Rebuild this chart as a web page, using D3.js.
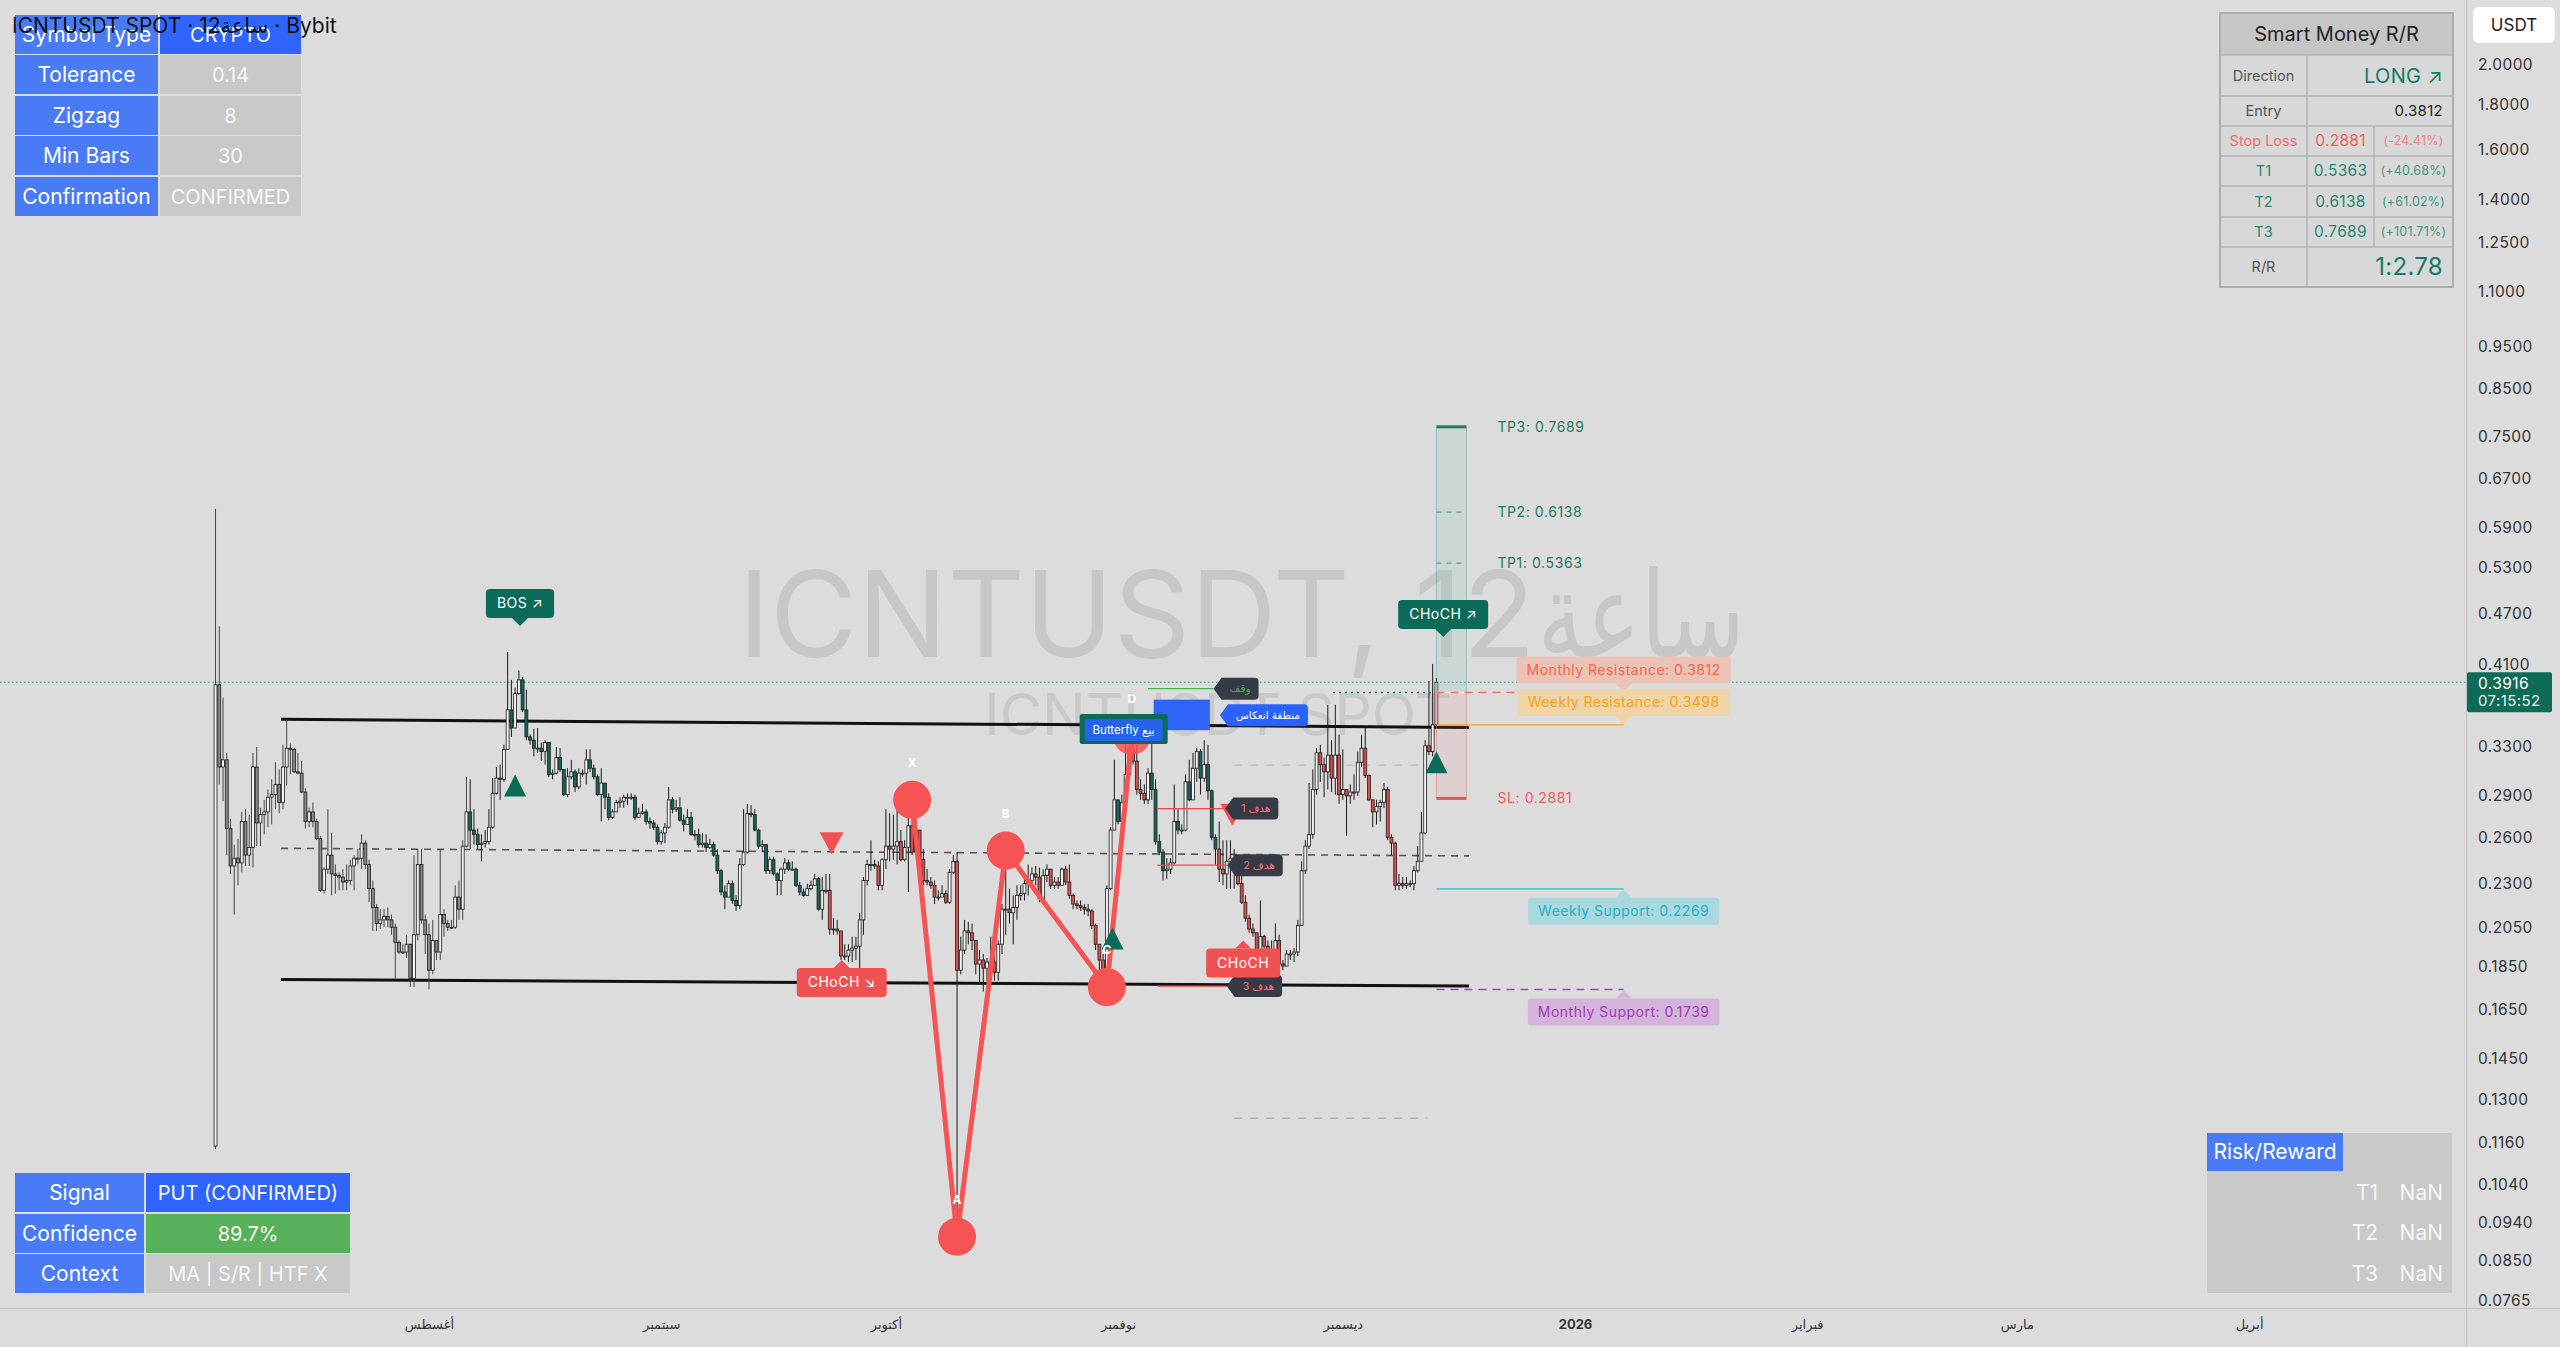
<!DOCTYPE html>
<html><head><meta charset="utf-8">
<script src="https://cdn.jsdelivr.net/npm/d3@7/dist/d3.min.js"></script>
<style>
html,body{margin:0;padding:0;background:#dcdcdc;overflow:hidden;}
svg{display:block;}
</style></head><body>
<svg id="chart" width="2560" height="1347"></svg>
<script>
// ---------------- DATA ----------------
const startTime = "2025-07-03T12:00:00Z";   // first 12h bar
const barHours = 12;
const timeDomain = ["2025-06-04T17:24:00Z", "2026-04-29T23:00:00Z"];
const priceDomain = [2.3745, 0.07497];
const firstOpen = 0.115;
const closes = [.389,.313,.319,.266,.241,.246,.243,.271,.248,.253,
 .313,.270,.276,.278,.289,.291,.299,.285,.313,.329,
 .328,.309,.308,.293,.271,.278,.271,.259,.226,.239,
 .248,.236,.235,.234,.231,.232,.241,.246,.246,.256,
 .242,.227,.216,.207,.209,.211,.209,.205,.197,.192,
 .192,.196,.179,.201,.242,.209,.201,.183,.198,.192,
 .212,.207,.205,.205,.222,.215,.254,.278,.265,.262,
 .255,.256,.257,.267,.292,.304,.303,.328,.364,.347,
 .380,.394,.364,.339,.336,.329,.329,.326,.334,.307,
 .308,.321,.311,.291,.305,.309,.297,.308,.308,.319,
 .312,.305,.291,.300,.289,.274,.278,.285,.286,.289,
 .289,.289,.274,.277,.278,.271,.270,.267,.257,.263,
 .267,.287,.280,.281,.272,.269,.274,.262,.262,.255,
 .256,.253,.255,.248,.238,.225,.222,.230,.220,.217,
 .242,.250,.277,.276,.265,.254,.255,.238,.245,.236,
 .232,.239,.243,.239,.239,.229,.225,.223,.227,.229,
 .233,.215,.226,.226,.204,.204,.203,.190,.190,.193,
 .194,.195,.209,.232,.242,.242,.241,.229,.245,.254,
 .252,.254,.257,.245,.253,.268,.250,.265,.245,.232,
 .231,.229,.222,.222,.224,.219,.237,.244,.183,.193,
 .203,.202,.198,.186,.188,.184,.187,.187,.182,.196,
 .215,.215,.213,.216,.223,.224,.230,.232,.236,.234,
 .221,.235,.239,.229,.231,.229,.239,.231,.223,.218,
 .217,.216,.215,.214,.206,.196,.188,.181,.227,.265,
 .287,.271,.285,.307,.328,.318,.295,.292,.287,.308,
 .295,.257,.250,.238,.239,.243,.271,.265,.265,.301,
 .287,.312,.326,.304,.315,.294,.260,.252,.239,.236,
 .244,.246,.246,.230,.219,.210,.204,.202,.193,.200,
 .195,.182,.182,.198,.186,.185,.191,.191,.192,.206,
 .238,.254,.262,.295,.325,.315,.309,.323,.304,.323,
 .291,.295,.290,.293,.293,.317,.329,.306,.287,.278,
 .282,.285,.295,.260,.256,.229,.230,.229,.230,.230,
 .238,.244,.263,.331,.326,.350,.3916];
const highs = [.619,.454,.376,.325,.273,.255,.259,.278,.280,.276,
 .325,.330,.281,.287,.295,.303,.317,.311,.332,.355,
 .333,.329,.325,.318,.296,.281,.285,.273,.261,.240,
 .280,.263,.242,.237,.239,.242,.245,.248,.252,.262,
 .258,.245,.232,.218,.215,.215,.216,.212,.207,.198,
 .196,.201,.196,.248,.252,.252,.212,.207,.209,.198,
 .252,.215,.209,.209,.229,.232,.258,.305,.303,.280,
 .266,.262,.265,.280,.304,.313,.315,.332,.424,.394,
 .386,.404,.397,.384,.341,.346,.347,.334,.336,.334,
 .311,.330,.329,.311,.312,.319,.311,.312,.311,.328,
 .328,.315,.307,.312,.300,.292,.280,.287,.289,.291,
 .292,.292,.291,.281,.284,.280,.274,.272,.269,.265,
 .270,.297,.289,.287,.289,.276,.280,.278,.265,.266,
 .263,.262,.259,.257,.252,.239,.229,.232,.232,.223,
 .246,.280,.284,.283,.280,.266,.258,.253,.247,.247,
 .237,.240,.246,.245,.244,.240,.231,.227,.230,.232,
 .236,.234,.234,.236,.236,.210,.209,.203,.196,.196,
 .200,.200,.213,.234,.245,.258,.245,.244,.246,.280,
 .277,.276,.283,.265,.258,.287,.287,.276,.255,.252,
 .239,.234,.232,.226,.229,.226,.239,.248,.250,.200,
 .209,.208,.207,.193,.193,.191,.189,.200,.191,.198,
 .218,.251,.227,.223,.229,.229,.236,.242,.240,.241,
 .240,.239,.242,.239,.234,.234,.240,.241,.242,.224,
 .220,.220,.218,.218,.215,.207,.196,.191,.229,.267,
 .319,.287,.291,.336,.341,.341,.336,.303,.299,.312,
 .341,.303,.262,.252,.246,.246,.299,.280,.269,.307,
 .319,.325,.329,.328,.336,.332,.295,.262,.271,.258,
 .258,.258,.252,.245,.236,.223,.212,.207,.201,.220,
 .201,.198,.198,.207,.201,.188,.193,.193,.194,.209,
 .244,.258,.300,.311,.329,.332,.321,.369,.336,.369,
 .341,.328,.295,.299,.307,.326,.341,.347,.307,.287,
 .287,.287,.300,.297,.262,.257,.236,.234,.234,.232,
 .241,.254,.278,.336,.393,.411,.396];
const lows = [.114,.299,.286,.248,.236,.212,.229,.237,.241,.241,
 .240,.254,.254,.262,.267,.269,.280,.277,.280,.298,
 .307,.308,.307,.292,.266,.267,.267,.258,.225,.224,
 .236,.223,.224,.226,.226,.226,.229,.226,.242,.239,
 .239,.219,.203,.203,.204,.205,.205,.201,.179,.191,
 .191,.189,.175,.175,.198,.207,.191,.174,.181,.188,
 .188,.200,.203,.204,.204,.209,.209,.253,.252,.255,
 .252,.244,.253,.255,.266,.291,.287,.301,.328,.339,
 .347,.379,.362,.336,.332,.322,.325,.318,.315,.305,
 .303,.307,.309,.290,.289,.303,.293,.295,.305,.299,
 .309,.303,.290,.271,.280,.272,.273,.278,.281,.281,
 .283,.287,.272,.274,.276,.269,.266,.265,.255,.255,
 .256,.266,.277,.278,.271,.264,.269,.261,.258,.253,
 .253,.250,.252,.247,.236,.223,.215,.223,.218,.214,
 .215,.241,.249,.274,.264,.252,.250,.236,.236,.235,
 .223,.223,.236,.238,.238,.228,.223,.222,.223,.226,
 .229,.214,.209,.224,.201,.201,.201,.188,.188,.187,
 .187,.188,.176,.201,.229,.238,.239,.226,.226,.239,
 .244,.245,.242,.244,.244,.225,.248,.248,.240,.229,
 .229,.227,.218,.220,.222,.218,.218,.236,.0905,.181,
 .191,.196,.193,.181,.176,.173,.178,.178,.178,.178,
 .191,.201,.207,.196,.209,.220,.220,.223,.227,.229,
 .219,.218,.231,.227,.227,.227,.229,.229,.221,.215,
 .215,.214,.212,.211,.204,.193,.181,.176,.175,.226,
 .265,.269,.269,.278,.307,.315,.291,.287,.284,.284,
 .287,.255,.248,.232,.233,.236,.242,.262,.262,.264,
 .286,.287,.301,.291,.301,.287,.258,.242,.231,.229,
 .227,.227,.227,.229,.218,.208,.202,.200,.191,.190,
 .193,.177,.176,.182,.178,.183,.187,.188,.187,.190,
 .206,.236,.252,.259,.291,.301,.289,.295,.293,.291,
 .284,.287,.261,.284,.287,.290,.313,.304,.286,.267,
 .269,.271,.281,.258,.248,.226,.226,.227,.227,.228,
 .226,.237,.244,.262,.323,.322,.347];
const trendBreaks = [[0,'gray'],[68,'teal'],[164,'red'],[238,'teal'],[243,'red'],[249,'teal'],[268,'red']];

const priceTicks = [2.0,1.8,1.6,1.4,1.25,1.1,0.95,0.85,0.75,0.67,0.59,0.53,0.47,0.41,0.33,0.29,0.26,0.23,0.205,0.185,0.165,0.145,0.13,0.116,0.104,0.094,0.085,0.0765];
const monthDates = ["2025-08-01","2025-09-01","2025-10-01","2025-11-01","2025-12-01","2026-01-01","2026-02-01","2026-03-01","2026-04-01"];
const monthLabels = ["أغسطس","سبتمبر","أكتوبر","نوفمبر","ديسمبر","2026","فبراير","مارس","أبريل"];
const lastPrice = 0.3916, lastCountdown = "07:15:52";

// channel (bar from, bar to, price from, price to)
const channelFrom = [17.5, 17.5, 17.5], channelTo = [334.7, 334.7, 334.7];
const channelP0 = [0.355, 0.1785, 0.2525], channelP1 = [0.3475, 0.1755, 0.2475];
const channelDash = [false, false, true];

// harmonic pattern XABCD
const patLabels = ['X','A','B','C','D'];
const patBars = [186, 198, 211, 238, 244.7];
const patPrices = [0.287, 0.0905, 0.251, 0.175, 0.340];

// signal triangles
const sigBars = [80, 164.5, 239.5, 271.5, 326];
const sigPrices = [0.298, 0.256, 0.199, 0.276, 0.317];
const sigDirs = ['up','down','up','down','up'];

// structure labels (pointer tip)
const stTexts = ['BOS ↗','CHoCH ↘','CHoCH','CHoCH ↗'];
const stBars = [81.3, 167.2, 274.4, 327.8];
const stPrices = [0.4543, 0.188, 0.198, 0.4413];
const stSide = ['above','below','below','above'];
const stBull = [true, false, false, true];

// trade setup
const entryPrice = 0.3812, stopPrice = 0.2881;
const tpNames = ['TP1','TP2','TP3'], tpPrices = [0.5363, 0.6138, 0.7689];
const tradeBars = [326, 334];

// HTF levels
const lvlNames = ['Monthly Resistance','Weekly Resistance','Weekly Support','Monthly Support'];
const lvlPrices = [0.3812, 0.3498, 0.2269, 0.1739];
const lvlBars = [326, 376];

// butterfly zone tags
const zoneTexts = ['وقف','منطقة انعكاس','هدف 1','هدف 2','هدف 3'];
const zonePrices = [0.385, 0.359, 0.2805, 0.2415, 0.1755];
const zoneTipBars = [266.5, 268.2, 269.6, 270.2, 270.0];
const zoneLineStart = [249, 0, 251.5, 251.5, 251.5];
const zoneRectBars = [250.5, 265.5], zoneRectPrices = [0.374, 0.345];
const butterflyText = 'Butterfly بيع', butterflyBar = 242.5, butterflyPrice = 0.346;

// misc guide lines
const guideBars = [[298.4, 325.6],[272, 323.5],[272, 323.5]];
const guidePrices = [0.3812, 0.3145, 0.1238];

// tables
const infoLabels = ['Symbol Type','Tolerance','Zigzag','Min Bars','Confirmation'];
const infoValues = ['CRYPTO','0.14','8','30','CONFIRMED'];
const sigTblLabels = ['Signal','Confidence','Context'];
const sigTblValues = ['PUT (CONFIRMED)','89.7%','MA | S/R | HTF X'];
const smRows = ['Direction','Entry','Stop Loss','T1','T2','T3','R/R'];
const smValues = ['LONG ↗','0.3812','0.2881','0.5363','0.6138','0.7689','1:2.78'];
const smPct = [null,null,'(-24.41%)','(+40.68%)','(+61.02%)','(+101.71%)',null];
const rrRows = ['T1','T2','T3'], rrValues = ['NaN','NaN','NaN'];

// ---------------- DRAW ----------------
const FONT = 'Inter, "Noto Sans", "DejaVu Sans", sans-serif';
const svg = d3.select('#chart').style('font-family', FONT);
const plotR = 2466, plotB = 1308;
const t0 = new Date(startTime).getTime();
const barDate = i => new Date(t0 + i * barHours * 3600e3);
const x = d3.scaleUtc().domain(timeDomain.map(d => new Date(d))).range([0, plotR]);
const y = d3.scaleLog().domain(priceDomain).range([0, plotB]);
const bx = i => x(barDate(i));

svg.append('rect').attr('width',2560).attr('height',1347).attr('fill','#dcdcdc');

// watermark
{
  const wm1 = svg.append('text').attr('x',738).attr('y',657).attr('font-size',119.5).attr('fill','#c7c7c7').text('ICNTUSDT, 12');
  const w1 = wm1.node().getComputedTextLength();
  svg.append('text').attr('transform',`translate(${738+w1+2},657) scale(0.76,1)`)
    .attr('font-size',120).attr('fill','#c7c7c7').text('ساعة');
  svg.append('text').attr('x',1218).attr('y',735).attr('text-anchor','middle')
    .attr('font-size',58).attr('fill','#c9c9c9').text('ICNTUSDT SPOT');
}

// last price line
svg.append('line').attr('x1',0).attr('x2',plotR).attr('y1',y(lastPrice)).attr('y2',y(lastPrice))
  .attr('stroke','#2a9d84').attr('stroke-width',1).attr('stroke-dasharray','1.5,2.5');

// channel lines
channelP0.forEach((p, k) => {
  svg.append('line').attr('x1',bx(channelFrom[k])).attr('x2',bx(channelTo[k]))
    .attr('y1',y(p)).attr('y2',y(channelP1[k]))
    .attr('stroke', channelDash[k] ? '#555' : '#111')
    .attr('stroke-width', channelDash[k] ? 1.6 : 3)
    .attr('stroke-dasharray', channelDash[k] ? '7,6' : null);
});

// guide lines
const guideCols = ['#1e7a62','#e9aeae','#a9b5c2'];
const guideDash = ['2,4','8,8','8,8'];
guidePrices.forEach((p,k)=>{
  svg.append('line').attr('x1',bx(guideBars[k][0])).attr('x2',bx(guideBars[k][1]))
   .attr('y1',y(p)).attr('y2',y(p)).attr('stroke',guideCols[k]).attr('stroke-width',1.5)
   .attr('stroke-dasharray',guideDash[k]);
});

// candles
const candles = closes.map((c,i)=>{
  const o = i===0 ? firstOpen : closes[i-1];
  return {i, o, c, h: Math.max(highs[i],o,c), l: Math.min(lows[i],o,c)};
});
const trendOf = i => { let k='gray'; for (const [s,c] of trendBreaks) if (i>=s) k=c; return k; };
const downFill = {gray:'#8a8a8a', teal:'#14695a', red:'#e04e4b'};
const cg = svg.append('g');
cg.selectAll('line').data(candles).join('line')
  .attr('x1',d=>bx(d.i)).attr('x2',d=>bx(d.i)).attr('y1',d=>y(d.h)).attr('y2',d=>y(d.l))
  .attr('stroke',d=>trendOf(d.i)==='gray'?'#444':'#1a1a1a').attr('stroke-width',1);
cg.selectAll('rect').data(candles).join('rect')
  .attr('x',d=>bx(d.i)-1.45).attr('width',2.9)
  .attr('y',d=>y(Math.max(d.o,d.c))).attr('height',d=>Math.max(1,Math.abs(y(d.o)-y(d.c))))
  .attr('fill',d=> d.c>=d.o ? '#f3f3f3' : downFill[trendOf(d.i)])
  .attr('stroke','#1a1a1a').attr('stroke-width',0.8);

// zone rect & lines
svg.append('rect').attr('x',bx(zoneRectBars[0])).attr('width',bx(zoneRectBars[1])-bx(zoneRectBars[0]))
  .attr('y',y(zoneRectPrices[0])).attr('height',y(zoneRectPrices[1])-y(zoneRectPrices[0]))
  .attr('fill','#2f63f5');
zonePrices.forEach((p,k)=>{
  if (k===1) return;
  svg.append('line').attr('x1',bx(zoneLineStart[k])).attr('x2',bx(zoneTipBars[k]))
    .attr('y1',y(p)).attr('y2',y(p)).attr('stroke', k===0 ? '#4caf50' : '#f04545').attr('stroke-width',1.2);
});

// trade box
const tx0 = bx(tradeBars[0]), tx1 = bx(tradeBars[1]);
svg.append('rect').attr('x',tx0).attr('width',tx1-tx0).attr('y',y(tpPrices[2])).attr('height',y(entryPrice)-y(tpPrices[2]))
  .attr('fill','rgba(120,190,175,0.16)').attr('stroke','rgba(40,140,120,0.35)').attr('stroke-width',1);
svg.append('rect').attr('x',tx0).attr('width',tx1-tx0).attr('y',y(entryPrice)).attr('height',y(stopPrice)-y(entryPrice))
  .attr('fill','rgba(240,130,130,0.13)').attr('stroke','rgba(240,110,110,0.5)').attr('stroke-width',1);
svg.append('line').attr('x1',tx0).attr('x2',tx1).attr('y1',y(entryPrice)).attr('y2',y(entryPrice)).attr('stroke','#f4f4f4').attr('stroke-width',1.5);
tpPrices.forEach((p,k)=>{
  svg.append('line').attr('x1',tx0).attr('x2',tx1).attr('y1',y(p)).attr('y2',y(p))
    .attr('stroke','#1e7a62').attr('stroke-width', k===2?3:1.2).attr('stroke-dasharray', k===2?null:'5,5').attr('opacity',k===2?1:0.6);
  svg.append('text').attr('x',tx1+31).attr('y',y(p)).attr('dy','0.35em').attr('font-size',14).attr('fill','#1e7a62')
    .attr('letter-spacing',0.6).text(`${tpNames[k]}: ${p.toFixed(4)}`);
});
svg.append('line').attr('x1',tx0).attr('x2',tx1).attr('y1',y(stopPrice)).attr('y2',y(stopPrice)).attr('stroke','#f05050').attr('stroke-width',3);
svg.append('text').attr('x',tx1+31).attr('y',y(stopPrice)).attr('dy','0.35em').attr('font-size',14).attr('fill','#f05a5a')
  .attr('letter-spacing',0.6).text(`SL: ${stopPrice.toFixed(4)}`);

// HTF level lines & labels
const lvlLine = ['#f06a55','#f5a623','#2fb8c9','#a440b8'];
const lvlBox = ['#ecc1b6','#efd4a6','#a9d8df','#d4b4da'];
const lvlText = ['#f2674c','#f5a01a','#22b3c6','#a03bb5'];
const lvlDash = ['8,6',null,null,'8,6'];
lvlPrices.forEach((p,k)=>{
  const ly = y(p), lx0 = bx(lvlBars[0]), lx1 = bx(lvlBars[1]);
  svg.append('line').attr('x1',lx0).attr('x2',lx1).attr('y1',ly).attr('y2',ly)
    .attr('stroke',lvlLine[k]).attr('stroke-width',1.3).attr('stroke-dasharray',lvlDash[k]);
  const above = k < 2;
  const g = svg.append('g');
  const t = g.append('text').attr('font-size',14).attr('fill',lvlText[k]).attr('letter-spacing',0.5)
    .attr('text-anchor','middle').text(`${lvlNames[k]}: ${p.toFixed(4)}`);
  const w = t.node().getComputedTextLength() + 20, h = 27, gap = 9;
  const top = above ? ly - gap - h : ly + gap;
  g.insert('rect','text').attr('x',lx1-w/2).attr('y',top).attr('width',w).attr('height',h).attr('rx',3).attr('fill',lvlBox[k]);
  g.insert('path','text').attr('d', above ? `M${lx1-8},${ly-gap} L${lx1},${ly-1} L${lx1+8},${ly-gap}Z` : `M${lx1-8},${ly+gap} L${lx1},${ly+1} L${lx1+8},${ly+gap}Z`).attr('fill',lvlBox[k]);
  t.attr('x',lx1).attr('y',top+h/2).attr('dy','0.35em');
});

// pattern lines & circles
const pts = patBars.map((b,k)=>({x:bx(b), y:y(patPrices[k]), l:patLabels[k]}));
svg.append('path').attr('d', d3.line().x(d=>d.x).y(d=>d.y)(pts)).attr('fill','none')
  .attr('stroke','#f65454').attr('stroke-width',5).attr('stroke-linejoin','round');

// signal triangles
sigBars.forEach((b,k)=>{
  const cx = bx(b), cy = y(sigPrices[k]);
  const d = sigDirs[k]==='up' ? `M${cx-11},${cy+11} L${cx},${cy-11} L${cx+11},${cy+11}Z` : `M${cx-12},${cy-11} L${cx},${cy+11} L${cx+12},${cy-11}Z`;
  svg.append('path').attr('d',d).attr('fill', sigDirs[k]==='up' ? '#0c6b57' : '#f05252');
});

pts.forEach((p,k)=>{
  svg.append('circle').attr('cx',p.x).attr('cy',p.y).attr('r',19).attr('fill','#f65454').attr('opacity', k===4?0.85:1);
  svg.append('text').attr('x',p.x).attr('y',p.y-37).attr('dy','0.35em').attr('text-anchor','middle')
    .attr('font-size',12).attr('font-weight',700).attr('fill','#ffffff').text(p.l);
});

// butterfly label
{
  const cx = bx(butterflyBar), cy = y(butterflyPrice);
  svg.append('rect').attr('x',cx-44).attr('y',cy-15).attr('width',88).attr('height',30).attr('rx',2).attr('fill','#0c6b58');
  svg.append('rect').attr('x',cx-39).attr('y',cy-10).attr('width',78).attr('height',22).attr('rx',2).attr('fill','#2962ff').attr('opacity',0.88);
  svg.append('text').attr('x',cx).attr('y',cy+1).attr('dy','0.35em').attr('text-anchor','middle')
    .attr('font-size',11.5).attr('fill','#fff').text(butterflyText);
}

// zone tags
zoneTexts.forEach((s,k)=>{
  const tx = bx(zoneTipBars[k]), ty = y(zonePrices[k]);
  const g = svg.append('g');
  const fill = k===1 ? '#2962ff' : '#363a45';
  const col = k===0 ? '#4caf50' : (k===1 ? '#ffffff' : '#f7727a');
  const t = g.append('text').attr('font-size',10.5).attr('fill',col).attr('text-anchor','middle').text(s);
  const w = Math.max(36, t.node().getComputedTextLength() + 16), h = 22, a = 8, r = 4;
  g.insert('path','text').attr('d',
    `M${tx},${ty} L${tx+a},${ty-h/2} H${tx+a+w-r} Q${tx+a+w},${ty-h/2} ${tx+a+w},${ty-h/2+r} V${ty+h/2-r} Q${tx+a+w},${ty+h/2} ${tx+a+w-r},${ty+h/2} H${tx+a} Z`)
    .attr('fill',fill);
  t.attr('x',tx+a+w/2).attr('y',ty).attr('dy','0.35em');
});

// structure labels
stTexts.forEach((s,k)=>{
  const tx = bx(stBars[k]), ty = y(stPrices[k]);
  const fill = stBull[k] ? '#0c6b58' : '#f05252';
  const g = svg.append('g');
  const t = g.append('text').attr('font-size',14).attr('fill','#fff').attr('text-anchor','middle').attr('letter-spacing',0.5).text(s);
  const w = t.node().getComputedTextLength() + 22, h = 29, p = 8;
  const top = stSide[k]==='above' ? ty - p - h : ty + p;
  g.insert('rect','text').attr('x',tx-w/2).attr('y',top).attr('width',w).attr('height',h).attr('rx',4).attr('fill',fill);
  g.insert('path','text').attr('d', stSide[k]==='above' ? `M${tx-8},${ty-p} L${tx},${ty} L${tx+8},${ty-p}Z` : `M${tx-8},${ty+p} L${tx},${ty} L${tx+8},${ty+p}Z`).attr('fill',fill);
  t.attr('x',tx).attr('y',top+h/2).attr('dy','0.35em');
});

// axes separators
svg.append('line').attr('x1',0).attr('x2',2560).attr('y1',plotB+0.5).attr('y2',plotB+0.5).attr('stroke','#c2c2c2');
svg.append('line').attr('x1',plotR+0.5).attr('x2',plotR+0.5).attr('y1',0).attr('y2',1347).attr('stroke','#c2c2c2');

// price axis
const yAxis = d3.axisRight(y).tickValues(priceTicks).tickFormat(d3.format('.4f')).tickSize(0).tickPadding(12);
const ya = svg.append('g').attr('transform',`translate(${plotR},0)`).call(yAxis);
ya.select('.domain').remove();
ya.selectAll('text').attr('font-size',15.5).attr('fill','#333').attr('font-family',FONT).attr('letter-spacing',0.4);

// time axis
const xAxis = d3.axisBottom(x).tickValues(monthDates.map(d=>new Date(d+"T00:00:00Z"))).tickSize(0).tickPadding(12)
  .tickFormat((d,i)=>monthLabels[i]);
const xa = svg.append('g').attr('transform',`translate(0,${plotB})`).call(xAxis);
xa.select('.domain').remove();
xa.selectAll('text').attr('font-size',13).attr('fill','#333').attr('font-family',FONT)
  .attr('font-weight',(d,i)=>monthLabels[i]==='2026'?700:400);

// USDT box
svg.append('rect').attr('x',2473).attr('y',7).attr('width',82).attr('height',36).attr('rx',6).attr('fill','#ffffff');
svg.append('text').attr('x',2514).attr('y',25).attr('dy','0.35em').attr('text-anchor','middle').attr('font-size',17).attr('fill','#222').text('USDT');

// last price label
{
  const ly = y(lastPrice);
  svg.append('rect').attr('x',plotR+1).attr('y',ly-10).attr('width',85).attr('height',40).attr('rx',2).attr('fill','#0e6b55');
  svg.append('text').attr('x',plotR+12).attr('y',ly+1).attr('dy','0.35em').attr('font-size',15.5).attr('fill','#fff').attr('letter-spacing',0.4).text(lastPrice.toFixed(4));
  svg.append('text').attr('x',plotR+12).attr('y',ly+19).attr('dy','0.35em').attr('font-size',15).attr('fill','#e8f2ef').attr('letter-spacing',0.4).text(lastCountdown);
}

// ---------- tables ----------
function cell(g, x0, y0, w, h, fill, txt, col, size, anchor='middle', opts={}) {
  if (fill) g.append('rect').attr('x',x0).attr('y',y0).attr('width',w).attr('height',h).attr('fill',fill);
  if (txt != null) {
    const tx = anchor==='middle' ? x0 + w/2 : (anchor==='end' ? x0 + w - (opts.pad||10) : x0 + (opts.pad||10));
    g.append('text').attr('x',tx).attr('y',y0+h/2).attr('dy','0.35em').attr('text-anchor',anchor)
      .attr('font-size',size).attr('fill',col).attr('letter-spacing',opts.ls||0).text(txt);
  }
}
// top-left info table
{
  const g = svg.append('g');
  const ys = [15,55,96,136,177];
  infoLabels.forEach((s,k)=>{
    cell(g, 15, ys[k], 143, 39, '#4a7bf6', s, '#ffffff', 21);
    cell(g, 160, ys[k], 141, 39, k===0 ? '#2f65fe' : '#c8c8c8', infoValues[k], '#f7f7f7', 20);
  });
  svg.append('text').attr('x',12).attr('y',33).attr('font-size',21).attr('fill','#111').text('ICNTUSDT SPOT · 12ساعة · Bybit');
}
// bottom-left signal table
{
  const g = svg.append('g');
  const ys = [1173,1214,1254];
  const vf = ['#2f65fe','#57b05a','#c8c8c8'];
  sigTblLabels.forEach((s,k)=>{
    cell(g, 15, ys[k], 129, 39, '#4a7bf6', s, '#ffffff', 21);
    cell(g, 146, ys[k], 204, 39, vf[k], sigTblValues[k], '#f7f7f7', 20);
  });
}
// Smart Money table
{
  const g = svg.append('g');
  const X0=2220, X1=2307, X2=2374, X3=2453;
  const ys = [55,96,126,156,186,217,247,287];
  g.append('rect').attr('x',X0).attr('y',13).attr('width',X3-X0).attr('height',42).attr('fill','#c6c6c6');
  g.append('rect').attr('x',X0).attr('y',55).attr('width',X3-X0).attr('height',232).attr('fill','#d8d8d8');
  g.append('text').attr('x',(X0+X3)/2).attr('y',34).attr('dy','0.35em').attr('text-anchor','middle').attr('font-size',20).attr('fill','#222').text('Smart Money R/R');
  const lc = ['#555','#555','#f26d6d','#1f8a6f','#1f8a6f','#1f8a6f','#555'];
  const vc = ['#0f7d66','#222','#f05f5f','#1f8a6f','#1f8a6f','#1f8a6f','#0f7d66'];
  const pc = [null,null,'#f08585','#3d9a80','#3d9a80','#3d9a80',null];
  smRows.forEach((s,k)=>{
    const y0 = ys[k], h = ys[k+1]-ys[k];
    cell(g, X0, y0, X1-X0, h, null, s, lc[k], 14.5);
    if (smPct[k]) {
      cell(g, X1, y0, X2-X1, h, null, smValues[k], vc[k], 15.5, 'middle', {ls:0.3});
      cell(g, X2, y0, X3-X2, h, null, smPct[k], pc[k], 12.5, 'middle', {ls:0.2});
    } else {
      const size = k===0 ? 20 : (k===6 ? 24 : 15);
      cell(g, X1, y0, X3-X1, h, null, smValues[k], vc[k], size, 'end', {pad:10, ls:0.3});
    }
  });
  const st = '#b4b4b4';
  ys.forEach(v=> g.append('line').attr('x1',X0).attr('x2',X3).attr('y1',v).attr('y2',v).attr('stroke',st).attr('stroke-width',1.5));
  g.append('line').attr('x1',X1).attr('x2',X1).attr('y1',55).attr('y2',287).attr('stroke',st).attr('stroke-width',1.5);
  g.append('line').attr('x1',X2).attr('x2',X2).attr('y1',126).attr('y2',247).attr('stroke',st).attr('stroke-width',1.5);
  g.append('rect').attr('x',X0).attr('y',13).attr('width',X3-X0).attr('height',274).attr('fill','none').attr('stroke','#adadad').attr('stroke-width',2);
}
// Risk/Reward table
{
  const g = svg.append('g');
  g.append('rect').attr('x',2207).attr('y',1133).attr('width',245).attr('height',160).attr('fill','#c9c9c9');
  cell(g, 2207, 1133, 136, 38, '#4a7bf6', 'Risk/Reward', '#ffffff', 21);
  const ys = [1193,1233,1274];
  rrRows.forEach((s,k)=>{
    g.append('text').attr('x',2378).attr('y',ys[k]).attr('dy','0.35em').attr('text-anchor','end').attr('font-size',21).attr('fill','#f7f7f7').text(s);
    g.append('text').attr('x',2443).attr('y',ys[k]).attr('dy','0.35em').attr('text-anchor','end').attr('font-size',21).attr('fill','#f7f7f7').text(rrValues[k]);
  });
}
</script></body></html>
